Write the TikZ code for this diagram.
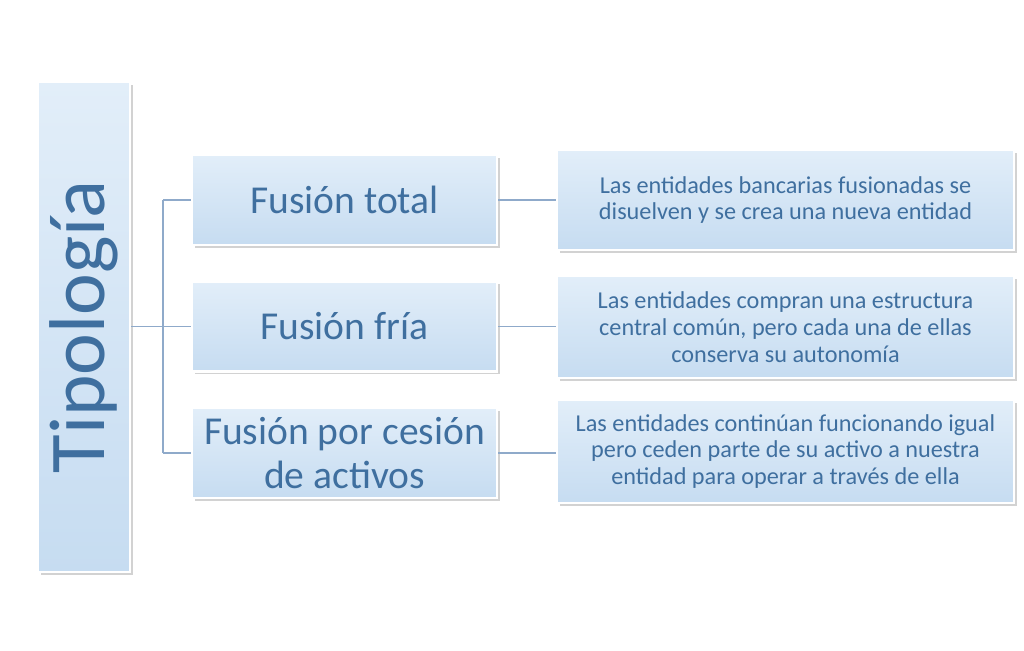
\documentclass[tikz,border=0pt]{standalone}
\usepackage{fontspec}
\setmainfont{Carlito}
\usetikzlibrary{shadows}
\definecolor{boxtop}{HTML}{E2EEF9}
\definecolor{boxbot}{HTML}{C6DCF1}
\definecolor{ink}{HTML}{3F6F9F}
\definecolor{wire}{HTML}{8FAACA}
\tikzset{
  box/.style={draw=white, line width=1.2pt, top color=boxtop, bottom color=boxbot,
    drop shadow={shadow xshift=1.5pt, shadow yshift=-1.5pt, fill=black!35},
    text=ink, align=center, inner sep=0pt},
  type/.style={box, minimum width=6.1cm, minimum height=1.8cm, font=\fontsize{22.5}{25}\selectfont},
  note/.style={box, minimum width=9.14cm, minimum height=2cm, font=\fontsize{13.8}{15.2}\selectfont},
  wire/.style={draw=wire, line width=0.6pt}
}
\begin{document}
\begin{tikzpicture}[x=0.02cm, y=-0.02cm]
\useasboundingbox (0,0) rectangle (1024,651);

% Title column
\node[box, minimum width=1.84cm, minimum height=9.8cm] (tipo) at (84,327)
  {\rotatebox{90}{\fontsize{45}{48}\selectfont Tipología}};

% Types
\node[type] (total) at (344.5,200) {Fusión total};
\node[type] (fria) at (344.5,326.5) {Fusión fría};
\node[type] (cesion) at (344.5,453) {Fusión por cesión\\de activos};

% Descriptions
\node[note] (dtotal) at (785.5,200) {Las entidades bancarias fusionadas se\\disuelven y se crea una nueva entidad};
\node[note, minimum height=2.04cm] (dfria) at (785.5,327) {Las entidades compran una estructura\\central común, pero cada una de ellas\\conserva su autonomía};
\node[note, minimum height=2.06cm] (dcesion) at (785.5,451.5) {Las entidades continúan funcionando igual\\pero ceden parte de su activo a nuestra\\entidad para operar a través de ella};

% Connectors
\coordinate (fork) at (163,326.5);
\draw[wire] (tipo.east |- fork) -- (fork);
\draw[wire] (fork |- total) -- (fork |- cesion);
\foreach \t/\d in {total/dtotal, fria/dfria, cesion/dcesion}{
  \draw[wire] (fork |- \t) -- (\t.west);
  \draw[wire] (\t.east) -- (\d.west |- \t);
}
\end{tikzpicture}
\end{document}
